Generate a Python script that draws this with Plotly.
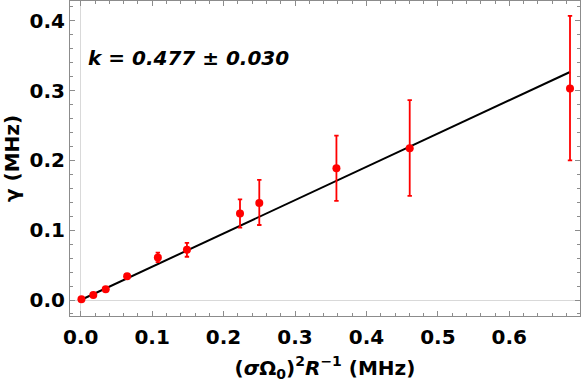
import plotly.graph_objects as go

# data
x_vals = [0.001, 0.0176, 0.035, 0.065, 0.108, 0.1487, 0.223, 0.250, 0.358, 0.4606, 0.685]
y_vals = [0.001, 0.0072, 0.0153, 0.034, 0.061, 0.072, 0.124, 0.139, 0.1887, 0.2173, 0.303]
err_plus = [0.001, 0.001, 0.001, 0.001, 0.0068, 0.010, 0.0203, 0.033, 0.0467, 0.0692, 0.104]
err_minus = [0.001, 0.001, 0.001, 0.001, 0.0066, 0.010, 0.0204, 0.0315, 0.0467, 0.068, 0.103]
fit_x = [0.0, 0.685]
fit_y = [0.0, 0.3267]
x_ticks = [0.0, 0.1, 0.2, 0.3, 0.4, 0.5, 0.6]
y_ticks = [0.0, 0.1, 0.2, 0.3, 0.4]
fit_label = "k = 0.477 ± 0.030"

FONT = "DejaVu Sans"
frame_col = "#8c8c8c"

fig = go.Figure()
fig.add_trace(go.Scatter(
    x=fit_x, y=fit_y, mode="lines",
    line=dict(color="black", width=2), showlegend=False, hoverinfo="skip"))
fig.add_trace(go.Scatter(
    x=x_vals, y=y_vals, mode="markers",
    marker=dict(color="#ff0000", size=8),
    error_y=dict(type="data", symmetric=False, array=err_plus, arrayminus=err_minus,
                 color="#ff0000", thickness=1.8, width=2.2),
    showlegend=False))

axis_common = dict(
    showline=True, linecolor=frame_col, linewidth=1, mirror="ticks",
    ticks="inside", ticklen=5, tickwidth=1, tickcolor=frame_col,
    showgrid=False, zeroline=True, zerolinecolor="#d9d9d9", zerolinewidth=1,
    tickfont=dict(family=FONT, size=20, color="black", weight="bold"),
    tickformat=".1f", automargin=False,
    minor=dict(ticks="inside", ticklen=3, tickcolor=frame_col, dtick=0.02, showgrid=False),
)

fig.update_xaxes(
    range=[-0.0150, 0.699], tickvals=x_ticks, ticklabelstandoff=3,
    title=dict(text="<b>(<i>σ</i>Ω<sub>0</sub>)<sup>2</sup><i>R</i><sup>−1</sup> (MHz)</b>",
               font=dict(family=FONT, size=20, color="black"), standoff=12),
    **axis_common)
fig.update_yaxes(
    range=[-0.0229, 0.4284], tickvals=y_ticks, ticklabelstandoff=0,
    title=dict(text="<b>γ (MHz)</b>", font=dict(family=FONT, size=20, color="black"), standoff=6),
    **axis_common)

fig.add_annotation(
    x=0.031, y=0.819, xref="paper", yref="paper", xanchor="left", yanchor="middle",
    text="<b><i>" + fit_label + "</i></b>", showarrow=False,
    font=dict(family=FONT, size=20, color="black"))

fig.update_layout(
    width=581, height=386,
    margin=dict(l=70, r=1, t=1, b=70),
    plot_bgcolor="white", paper_bgcolor="white",
)

fig.write_html("out.html", config={"displayModeBar": False},
               post_script="document.body.style.margin='0';document.body.style.overflow='hidden';")
